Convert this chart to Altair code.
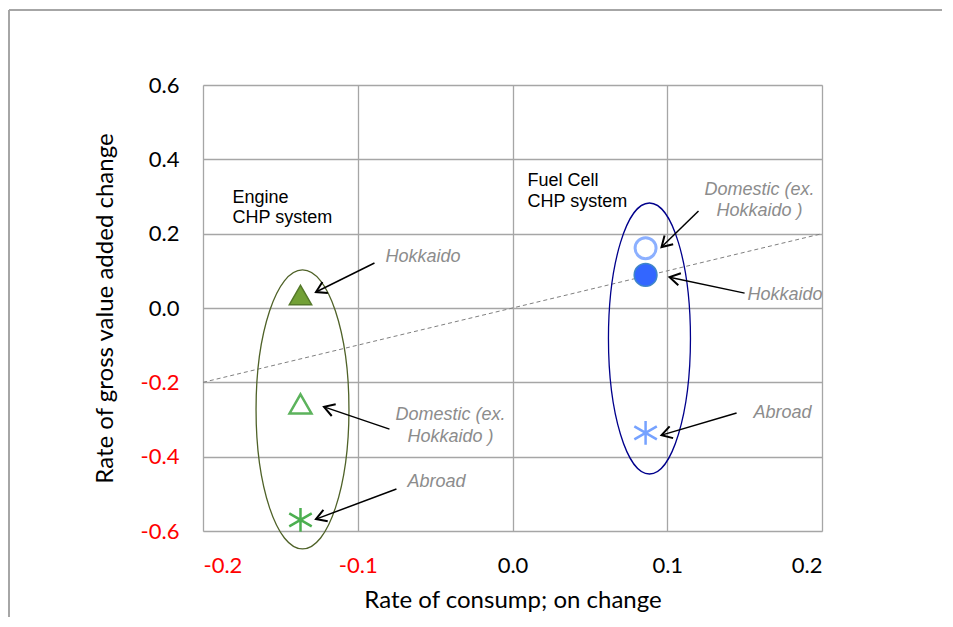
import math
import altair as alt
import pandas as pd

# ---------------- data ----------------
x_ticks = [-0.2, -0.1, 0.0, 0.1, 0.2]
y_ticks = [-0.6, -0.4, -0.2, 0.0, 0.2, 0.4, 0.6]

# markers: engine CHP (green triangles / asterisk), fuel cell CHP (blue circles / asterisk)
pt_kind = ["eng_hok", "eng_dom", "eng_abr", "fc_dom", "fc_hok", "fc_abr"]
pt_x = [-0.137, -0.137, -0.137, 0.086, 0.086, 0.086]
pt_y = [0.035, -0.258, -0.570, 0.161, 0.089, -0.336]

# reference line y = x
ref_x = [-0.2, 0.2]
ref_y = [-0.2, 0.2]

# group ellipses (centre in data units)
ell_kind = ["engine", "fuelcell"]
ell_x = [-0.1357, 0.0885]
ell_y = [-0.273, -0.082]

# arrows (start near label -> tip near marker), data units
arr_x = [-0.0892, -0.0795, -0.0750, 0.1202, 0.1500, 0.1448]
arr_y = [0.121, -0.326, -0.487, 0.261, 0.040, -0.2825]
arr_x2 = [-0.127, -0.1218, -0.127, 0.0963, 0.1015, 0.0963]
arr_y2 = [0.043, -0.266, -0.568, 0.164, 0.083, -0.342]

# grey italic annotation labels
lab_text = ["Hokkaido", "Domestic (ex.", "Hokkaido )", "Abroad",
            "Domestic (ex.", "Hokkaido )", "Hokkaido", "Abroad"]
lab_x = [-0.0821, -0.0401, -0.0401, -0.0491, 0.1596, 0.1596, 0.1519, 0.1557]
lab_y = [0.1372, -0.2879, -0.3471, -0.468, 0.3175, 0.261, 0.035, -0.2825]
lab_align = ["left", "center", "center", "center", "center", "center", "left", "left"]

# black group labels
grp_text = ["Engine", "CHP system", "Fuel Cell", "CHP system"]
grp_x = [-0.1809, -0.1809, 0.0097, 0.0097]
grp_y = [0.296, 0.242, 0.3417, 0.2852]

# ---------------- layout / styles ----------------
W, H = 619, 446
PAD = {"left": 195, "top": 77, "right": 120, "bottom": 86}
X_DOM = [-0.2, 0.2]
Y_DOM = [-0.6, 0.6]
PX_X = W / (X_DOM[1] - X_DOM[0])
PX_Y = H / (Y_DOM[1] - Y_DOM[0])

GRID = "#a6a6a6"
LABEL_FONT = "Lato"
ANN_FONT = "Liberation Sans"

xscale = alt.Scale(domain=X_DOM, nice=False, zero=False)
yscale = alt.Scale(domain=Y_DOM, nice=False, zero=False)
color_expr = {"expr": "datum.value < 0 ? '#ff0000' : '#000000'"}
label_expr = "replace(format(datum.value, '.1f'), '\u2212', '-')"

xaxis = alt.Axis(values=x_ticks, labelExpr=label_expr, title="Rate of consump; on change",
                 labelFont=LABEL_FONT, labelFontSize=22, labelColor=color_expr,
                 labelPadding=24, ticks=False, domain=False, grid=True,
                 gridColor=GRID, gridWidth=1.3, titleFont=LABEL_FONT,
                 titleFontSize=24, titleFontWeight="normal", titleColor="#000000",
                 titlePadding=12)
yaxis = alt.Axis(values=y_ticks, labelExpr=label_expr, title="Rate of gross value added change",
                 labelFont=LABEL_FONT, labelFontSize=22, labelColor=color_expr,
                 labelPadding=24, ticks=False, domain=False, grid=True,
                 gridColor=GRID, gridWidth=1.3, titleFont=LABEL_FONT,
                 titleFontSize=24, titleFontWeight="normal", titleColor="#000000",
                 titlePadding=23)


def X(f="x"):
    return alt.X(f"{f}:Q", scale=xscale, axis=xaxis)


def Y(f="y"):
    return alt.Y(f"{f}:Q", scale=yscale, axis=yaxis)


# ---------------- layers ----------------
ref_df = pd.DataFrame({"x": ref_x, "y": ref_y})
ref_line = alt.Chart(ref_df).mark_line(color="#808080", strokeWidth=1,
                                       strokeDash=[4, 3]).encode(x=X(), y=Y())

ELL_STYLE = {
    "engine": dict(shape="M0,-1A0.333,1 0 1,1 0,1A0.333,1 0 1,1 0,-1Z",
                   size=279 ** 2, stroke="#4f6228"),
    "fuelcell": dict(shape="M0,-1A0.3026,1 0 1,1 0,1A0.3026,1 0 1,1 0,-1Z",
                     size=271 ** 2, stroke="#00008c"),
}
ell_df = pd.DataFrame({"x": ell_x, "y": ell_y, "kind": ell_kind})
ell_layers = []
for k in ell_kind:
    st = ELL_STYLE[k]
    ell_layers.append(
        alt.Chart(ell_df[ell_df["kind"] == k]).mark_point(
            shape=st["shape"], size=st["size"], stroke=st["stroke"],
            fill="transparent", filled=False, strokeWidth=1.3, opacity=1
        ).encode(x=X(), y=Y()))

TRI = "M0,-0.87L1,0.87L-1,0.87Z"
AST = "M0,-1L0,1M-0.95,-0.55L0.95,0.55M-0.95,0.55L0.95,-0.55"
PT_STYLE = {
    "eng_hok": dict(shape=TRI, fill="#72a036", stroke="#55792a", size=500, strokeWidth=1.5),
    "eng_dom": dict(shape=TRI, fill="transparent", stroke="#5cb35c", size=480, strokeWidth=2.5),
    "eng_abr": dict(shape=AST, fill="transparent", stroke="#4caf50", size=560, strokeWidth=2.5),
    "fc_dom": dict(shape="circle", fill="transparent", stroke="#8cb0ff", size=440, strokeWidth=3),
    "fc_hok": dict(shape="circle", fill="#3366ff", stroke="#3f86c8", size=520, strokeWidth=1.5),
    "fc_abr": dict(shape=AST, fill="transparent", stroke="#76a2ff", size=560, strokeWidth=2.5),
}
pt_df = pd.DataFrame({"x": pt_x, "y": pt_y, "kind": pt_kind})
pt_layers = []
for k in pt_kind:
    st = PT_STYLE[k]
    pt_layers.append(
        alt.Chart(pt_df[pt_df["kind"] == k]).mark_point(
            shape=st["shape"], fill=st["fill"], stroke=st["stroke"], size=st["size"],
            strokeWidth=st["strokeWidth"], opacity=1, fillOpacity=1, strokeOpacity=1
        ).encode(x=X(), y=Y()))

arr_angle = []
for a, b, c, d in zip(arr_x, arr_y, arr_x2, arr_y2):
    dx = (c - a) * PX_X
    dy = -(d - b) * PX_Y
    arr_angle.append(math.degrees(math.atan2(dy, dx)) % 360)

arr_df = pd.DataFrame({"x": arr_x, "y": arr_y, "x2": arr_x2, "y2": arr_y2,
                       "angle": arr_angle})
arrow_lines = alt.Chart(arr_df).mark_rule(color="#000000", strokeWidth=1.5).encode(
    x=X(), y=Y(), x2="x2:Q", y2="y2:Q")
arrow_heads = alt.Chart(arr_df).mark_point(
    shape="M-1,-0.6L0,0L-1,0.6", filled=False, stroke="#000000", fill="transparent",
    strokeWidth=2, size=420, opacity=1).encode(
    x=alt.X("x2:Q", scale=xscale, axis=xaxis),
    y=alt.Y("y2:Q", scale=yscale, axis=yaxis),
    angle=alt.Angle("angle:Q", scale=None),
)

lab_df = pd.DataFrame({"x": lab_x, "y": lab_y, "t": lab_text, "al": lab_align})
lab_layers = []
for al in ["left", "center"]:
    lab_layers.append(
        alt.Chart(lab_df[lab_df["al"] == al]).mark_text(
            font=ANN_FONT, fontSize=18, fontStyle="italic", color="#8c8c8c",
            align=al, baseline="middle").encode(x=X(), y=Y(), text="t:N"))

grp_df = pd.DataFrame({"x": grp_x, "y": grp_y, "t": grp_text})
grp_labels = alt.Chart(grp_df).mark_text(
    font=ANN_FONT, fontSize=18, color="#000000", align="left",
    baseline="middle").encode(x=X(), y=Y(), text="t:N")

# outer chart frame (decorative)
frame_left = alt.Chart(ref_df).mark_rule(color="#a0a0a0", strokeWidth=1.5).encode(
    x=alt.value(-194), y=alt.value(-75), y2=alt.value(H + PAD["bottom"]))
frame_top = alt.Chart(ref_df).mark_rule(color="#a0a0a0", strokeWidth=1.5).encode(
    x=alt.value(-194), x2=alt.value(W + PAD["right"]), y=alt.value(-75))

chart = alt.layer(
    frame_left, frame_top, ref_line, *ell_layers, arrow_lines, arrow_heads,
    *pt_layers, grp_labels, *lab_layers,
).properties(
    width=W, height=H,
    autosize=alt.AutoSizeParams(type="none"),
    padding=PAD,
).configure_view(
    stroke=GRID, strokeWidth=1.3
).configure(background="#ffffff")

chart.save("out.html", embed_options={"renderer": "svg", "actions": False})
